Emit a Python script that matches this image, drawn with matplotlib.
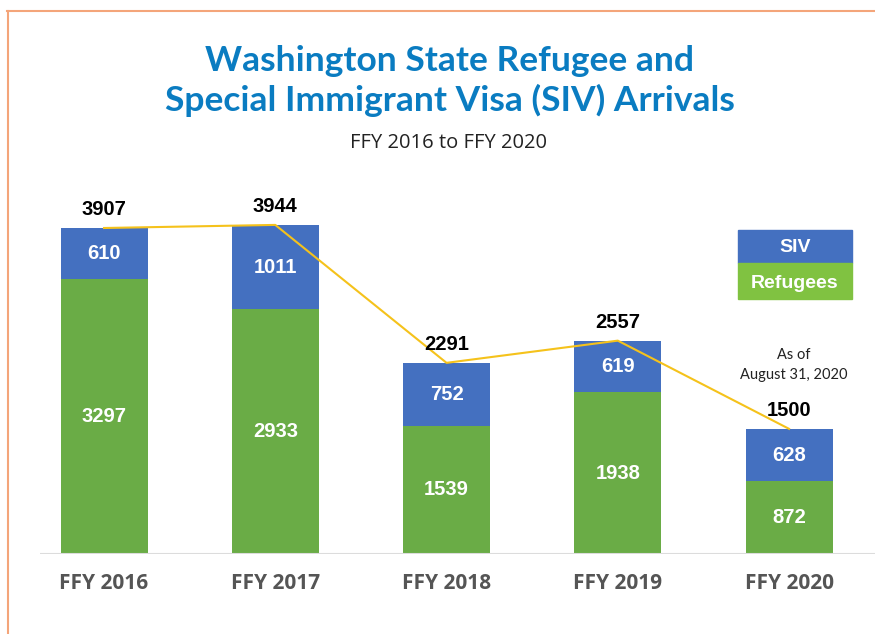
import matplotlib.pyplot as plt
from matplotlib.patches import Rectangle
from matplotlib.lines import Line2D

years = ['FFY 2016', 'FFY 2017', 'FFY 2018', 'FFY 2019', 'FFY 2020']
refugees = [3297, 2933, 1539, 1938, 872]
siv = [610, 1011, 752, 619, 628]
totals = [3907, 3944, 2291, 2557, 1500]

GREEN = '#6aac46'
BLUE = '#4470c0'
GOLD = '#f5c21b'
TITLE_BLUE = '#0a7cc1'
NARROW = ['Liberation Sans Narrow', 'Liberation Sans', 'DejaVu Sans']

W, H = 875, 634
fig = plt.figure(figsize=(W / 100, H / 100), dpi=100)

def fx(px):
    return px / W

def fy(py):
    return 1 - py / H

# orange frame (top and left)
fig.add_artist(Line2D([fx(7), 1], [fy(11), fy(11)], color='#f4a57a', lw=1.5))
fig.add_artist(Line2D([fx(8), fx(8)], [0, fy(11)], color='#f4a57a', lw=1.5))

fig.text(fx(450), fy(61), 'Washington State Refugee and', ha='center', va='center',
         fontsize=25.5, fontweight='bold', color=TITLE_BLUE, family='Lato')
fig.text(fx(450), fy(100), 'Special Immigrant Visa (SIV) Arrivals', ha='center', va='center',
         fontsize=25.5, fontweight='bold', color=TITLE_BLUE, family='Lato')
fig.text(fx(449), fy(143), 'FFY 2016 to FFY 2020', ha='center', va='center',
         fontsize=14.5, color='#222222', family='Open Sans')

scale = 0.08344  # px per unit
ax = fig.add_axes([fx(40), 80 / H, fx(835), 374 / H])
x = list(range(len(years)))
width = 0.508
ax.bar(x, refugees, width, color=GREEN)
ax.bar(x, siv, width, bottom=refugees, color=BLUE)
ax.plot(x, totals, color=GOLD, lw=1.5)
ax.set_xlim(-0.374, 4.502)
ax.set_ylim(0, 374 / scale)
ax.axhline(0, color='#dcdcdc', lw=1.5)

for i in x:
    ax.text(i, refugees[i] / 2, str(refugees[i]), ha='center', va='center',
            color='white', fontsize=14.5, fontweight='bold', family=NARROW)
    ax.text(i, refugees[i] + siv[i] / 2, str(siv[i]), ha='center', va='center',
            color='white', fontsize=14.5, fontweight='bold', family=NARROW)
    ax.text(i, totals[i] + 18 / scale, str(totals[i]), ha='center', va='center',
            color='black', fontsize=14.5, fontweight='bold', family=NARROW)

ax.text(4.03, totals[4] + 64 / scale, 'As of\nAugust 31, 2020', ha='center', va='center',
        fontsize=10.5, color='#222222', family='Lato', linespacing=1.6)

ax.set_xticks(x)
ax.set_xticklabels(years, fontsize=15, fontweight='bold', color='#555555', family='Open Sans')
ax.tick_params(axis='x', length=0, pad=14)
ax.set_yticks([])
for s in ax.spines.values():
    s.set_visible(False)

# legend boxes
fig.add_artist(Rectangle((fx(738), fy(263)), fx(114), 33 / H, color=BLUE))
fig.add_artist(Rectangle((fx(738), fy(299)), fx(114), 36 / H, color='#80c241'))
fig.text(fx(795), fy(247), 'SIV', ha='center', va='center', color='white',
         fontsize=14, fontweight='bold', family=NARROW)
fig.text(fx(795), fy(283), 'Refugees', ha='center', va='center', color='white',
         fontsize=14, fontweight='bold', family=NARROW)

fig.savefig('out.png', dpi=100)
